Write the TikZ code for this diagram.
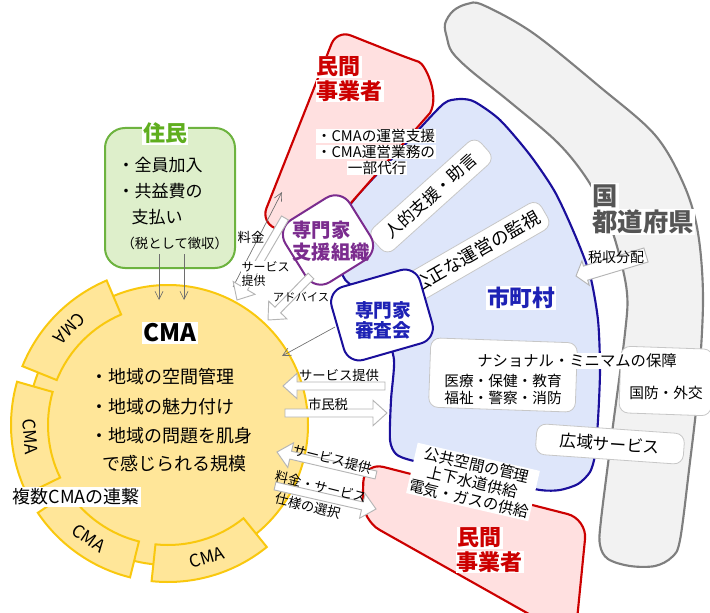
\documentclass[tikz,border=0pt]{standalone}
\usepackage{fontspec}
\setmainfont{Noto Sans CJK JP}
\usetikzlibrary{arrows.meta,calc}
\definecolor{yfill}{HTML}{FFE699}
\definecolor{ydraw}{HTML}{F9C80E}
\definecolor{gfill}{HTML}{DEEFCB}
\definecolor{gdraw}{HTML}{6DB33F}
\definecolor{gtext}{HTML}{5FAE1E}
\definecolor{pfill}{HTML}{FFE0E0}
\definecolor{rdraw}{HTML}{CC0000}
\definecolor{rtext}{HTML}{CC0000}
\definecolor{bfill}{HTML}{DEE6FA}
\definecolor{bdraw}{HTML}{1A0F9C}
\definecolor{btext}{HTML}{1E22B5}
\definecolor{pdraw}{HTML}{7B2C8E}
\definecolor{kfill}{HTML}{F2F2F2}
\definecolor{kdraw}{HTML}{7F7F7F}
\definecolor{ktext}{HTML}{555555}
\definecolor{agray}{HTML}{B5B5B5}
\definecolor{lgray}{HTML}{6E6E6E}
\newcommand\fz[1]{\fontsize{#1}{#1}\selectfont}
\newcommand\blockarrow[5]{%
  \coordinate (tmpH) at ($(#2)!#5!(#1)$);
  \draw[barrow] ($(#1)!#3!90:(#2)$) -- ($(tmpH)!#3!90:(#2)$) -- ($(tmpH)!#4!90:(#2)$) -- (#2)
    -- ($(tmpH)!#4!-90:(#2)$) -- ($(tmpH)!#3!-90:(#2)$) -- ($(#1)!#3!-90:(#2)$) -- cycle;}
\tikzset{
  wbox/.style={draw=black!22, fill=white, rounded corners=7pt, line width=0.6pt},
  barrow/.style={draw=agray, fill=white, line width=0.7pt},
  thinarr/.style={draw=lgray, line width=0.5pt, -{Straight Barb[length=6pt,width=6pt]}},
  seg/.style={draw=ydraw, fill=yfill, line width=1.5pt},
  segtxt/.style={font=\fz{13pt}},
  rtitle/.style={font=\fz{16.5pt}\bfseries, text=rtext, fill=white, inner sep=0.5pt},
  lab/.style={font=\fz{10pt}},
}
\begin{document}
\begin{tikzpicture}[x=0.75pt,y=-0.75pt, every node/.style={inner sep=1pt}]
\useasboundingbox (0,0) rectangle (710,613);
\clip (0,0) rectangle (710,613);
% gray band
\draw[draw=kdraw, fill=kfill, line width=1.6pt] plot[smooth cycle, tension=0.55] coordinates {
 (447,38) (445,24) (453,11) (467,4) (483,5) (533,33) (600,87) (655,135) (684,185) (698,233)
 (703,300) (698,390) (689,470) (680,540) (672,557) (655,566) (630,566) (608,559) (600,545)
 (601,520) (612,433) (625,333) (627,293) (618,250) (605,212) (585,176) (557,142) (510,102) (470,70) (452,52)};
% blue municipality region
\draw[draw=bdraw, fill=bfill, line width=1.6pt] plot[smooth cycle, tension=0.45] coordinates {
 (350,205) (400,150) (437,110) (448,101) (462,99) (475,102) (500,120) (530,155) (555,192)
 (575,235) (590,275) (598,320) (600,370) (598,420) (595,455) (590,472) (578,484) (560,490)
 (540,490) (500,481) (450,469) (410,460) (396,454) (390,440) (391,400) (394,360) (385,335)
 (358,292) (343,276) (342,240)};
% private companies
\draw[draw=rdraw, fill=pfill, line width=1.6pt, rounded corners=11pt]
  (430,113) -- (314,245) -- (261,222) -- (337,30) -- (405,57) [sharp corners]
  .. controls (425,64) and (440,95) .. (430,113) -- cycle;
\draw[draw=rdraw, fill=pfill, line width=1.6pt, rounded corners=15pt]
  (364,462) -- (587,519) -- (575,640) -- (362,520) -- cycle;
% boxes in municipality
\node[wbox, minimum width=109pt, minimum height=22.5pt, rotate=42, font=\fz{12.5pt}] (jinteki) at (431,196) {人的支援・助言};
\node[wbox, minimum width=119pt, minimum height=23pt, rotate=30, font=\fz{13.5pt}] (kousei) at (476,252) {公正な運営の監視};
\node[wbox, minimum width=110pt, minimum height=52pt, rotate=-2] (nmbox) at (503,375) {};
\node[wbox, minimum width=69pt, minimum height=50pt, rotate=-2] (kbbox) at (666,381) {};
\node[font=\fz{11.5pt}, fill=white] (nm) at (577,361) {ナショナル・ミニマムの保障};
\node[font=\fontsize{11pt}{12.75pt}\selectfont, align=center] (iryo) at (503,389) {医療・保健・教育\\福祉・警察・消防};
\node[font=\fz{11pt}] (kokubo) at (666,393) {国防・外交};
\node[wbox, minimum width=111pt, minimum height=23pt, rotate=-4, font=\fz{12.5pt}] (koiki) at (610,444) {広域サービス};
\node[font=\fontsize{11.5pt}{13pt}\selectfont, align=center, fill=white, rotate=-13] (kokyo) at (473,482) {公共空間の管理\\上下水道供給\\電気・ガスの供給};
\node[font=\fz{17pt}\bfseries, text=btext, fill=white] (shichoson) at (521,298) {市町村};
\node[font=\fz{19pt}\bfseries, text=ktext, fill=white, anchor=west] (kuni) at (591,196) {国};
\node[font=\fz{19pt}\bfseries, text=ktext, fill=white, anchor=west] (todofuken) at (591,222) {都道府県};
% private company texts
\node[rtitle, anchor=west] (min1a) at (316,67) {民間};
\node[rtitle, anchor=west] (min1b) at (316,91) {事業者};
\node[font=\fz{11pt}, fill=white, anchor=west, inner sep=0.5pt] (rt1) at (316,136) {・CMAの運営支援};
\node[font=\fz{11pt}, fill=white, anchor=west, inner sep=0.5pt] (rt2) at (316,152) {・CMA運営業務の};
\node[font=\fz{11pt}, fill=white, anchor=west, inner sep=0.5pt] (rt3) at (347,168) {一部代行};
\node[rtitle, anchor=west] (min2a) at (457,538) {民間};
\node[rtitle, anchor=west] (min2b) at (456,562) {事業者};
% residents
\node[draw=gdraw, fill=gfill, line width=1.5pt, rounded corners=15pt, minimum width=97.5pt, minimum height=105pt] (jbox) at (170,198) {};
\node[font=\fz{16.5pt}\bfseries, text=gtext, fill=white] (jumin) at (165,133) {住民};
\node[font=\fz{12.75pt}, anchor=west] (j1) at (116,165) {・全員加入};
\node[font=\fz{12.75pt}, anchor=west] (j2) at (116,191) {・共益費の};
\node[font=\fz{12.75pt}, anchor=west] (j3) at (130,217) {支払い};
\node[font=\fz{10pt}, anchor=west] (j4) at (120,243) {（税として徴収）};
% CMA circle
\node[circle, draw=ydraw, fill=yfill, line width=1.5pt, minimum size=210pt] (cma) at (168,425) {};
\foreach \a/\b in {51/96,104/146,154/196,202/247}{
  \draw[seg] ([shift={(168,425)}]\a:120) arc[start angle=\a, end angle=\b, radius=120]
    -- ([shift={(168,425)}]\b:157) arc[start angle=\b, end angle=\a, radius=157] -- cycle;}
\node[segtxt, rotate=-134.5] (s1) at ([shift={(168,425)}]224.5:138) {CMA};
\node[segtxt, rotate=-85] (s2) at ([shift={(168,425)}]175:138) {CMA};
\node[segtxt, rotate=-35] (s3) at ([shift={(168,425)}]125:138) {CMA};
\node[segtxt, rotate=16.5] (s4) at ([shift={(168,425)}]73.5:138) {CMA};
\node[font=\fz{18pt}\bfseries, fill=white] (cmat) at (170,333) {CMA};
\node[font=\fz{13.5pt}, anchor=west] (c1) at (89,377) {・地域の空間管理};
\node[font=\fz{13.5pt}, anchor=west] (c2) at (89,407) {・地域の魅力付け};
\node[font=\fz{13.5pt}, anchor=west] (c3) at (89,436) {・地域の問題を肌身};
\node[font=\fz{13.5pt}, anchor=west] (c4) at (101,464) {で感じられる規模};
\node[font=\fz{13.5pt}, fill=white, anchor=west] (renkei) at (11,497) {複数CMAの連繋};
% expert organisations
\node[draw=pdraw, fill=white, line width=1.5pt, rounded corners=13pt, minimum width=57pt, minimum height=55pt, rotate=32] (shienShape) at (328,240) {};
\node[font=\fontsize{14.5pt}{16.5pt}\selectfont\bfseries, text=pdraw, align=left] (shien) at (331,241) {専門家\\支援組織};
\node[draw=bdraw, fill=white, line width=1.5pt, rounded corners=12pt, minimum width=69pt, minimum height=57pt, rotate=16] (shinsaShape) at (382,315) {};
\node[font=\fontsize{14pt}{15pt}\selectfont\bfseries, text=btext, align=center] (shinsa) at (383,320) {専門家\\審査会};
% arrows
\coordinate (g1s) at (159,254); \coordinate (g1e) at (159,300);
\coordinate (g2s) at (184,254); \coordinate (g2e) at (184,300);
\draw[thinarr] (g1s) -- (g1e);
\draw[thinarr] (g2s) -- (g2e);
\coordinate (a1s) at (233,287); \coordinate (a1e) at (282,192);
\draw[thinarr] (a1s) -- (a1e);
\coordinate (a2s) at (285,218); \coordinate (a2e) at (237,300);
\blockarrow{a2s}{a2e}{3pt}{9.5pt}{10.5pt}
\coordinate (a3s) at (311,276); \coordinate (a3e) at (268,320);
\blockarrow{a3s}{a3e}{3pt}{9.5pt}{10.5pt}
\coordinate (a4s) at (335,327); \coordinate (a4e) at (282,356);
\draw[thinarr] (a4s) -- (a4e);
\coordinate (a5s) at (385,386); \coordinate (a5e) at (283,386);
\blockarrow{a5s}{a5e}{3pt}{9.5pt}{10.5pt}
\coordinate (a6s) at (285,413); \coordinate (a6e) at (387,413);
\blockarrow{a6s}{a6e}{3pt}{9.5pt}{10.5pt}
\coordinate (a7s) at (376,475); \coordinate (a7e) at (277,452);
\blockarrow{a7s}{a7e}{3pt}{9.5pt}{10.5pt}
\coordinate (a8s) at (275,486); \coordinate (a8e) at (376,509);
\blockarrow{a8s}{a8e}{3pt}{9.5pt}{10.5pt}
\coordinate (a9s) at (646,255); \coordinate (a9e) at (576,276);
\blockarrow{a9s}{a9e}{5.5pt}{9.5pt}{7.5pt}
% arrow labels
\node[lab] (l1) at (251,237) {料金};
\node[font=\fz{9pt}, anchor=west, fill=white, inner sep=0.3pt] (l2a) at (241,267) {サービス};
\node[font=\fz{9pt}, anchor=west, fill=white, inner sep=0.3pt] (l2b) at (241,281) {提供};
\node[font=\fz{8.5pt}] (l3) at (301,297) {アドバイス};
\node[lab] (l5) at (339,375) {サービス提供};
\node[lab] (l6) at (328,404) {市民税};
\node[lab, rotate=-14] (l7) at (333,459) {サービス提供};
\node[lab, rotate=-14] (l8a) at (321,487) {料金・サービス};
\node[lab, rotate=-14] (l8b) at (308,506) {仕様の選択};
\node[font=\fz{10.5pt}] (l9) at (616,257) {税収分配};
\end{tikzpicture}
\end{document}
